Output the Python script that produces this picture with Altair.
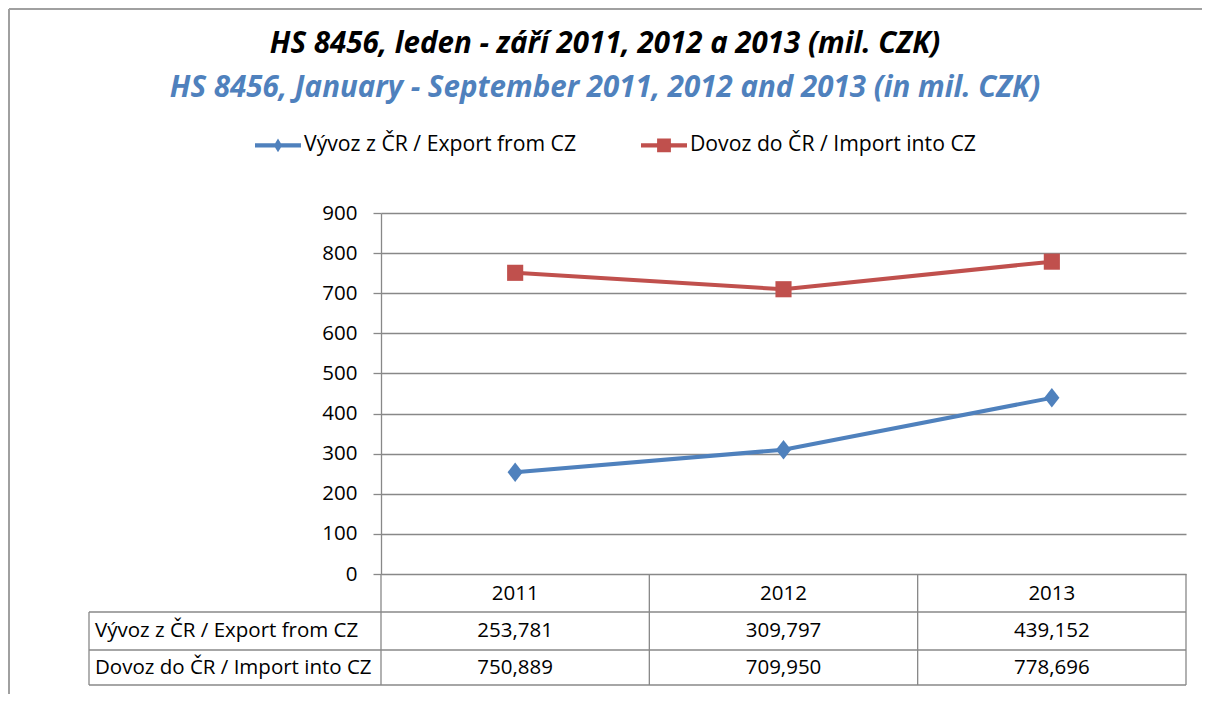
import altair as alt
import pandas as pd

# ---- data ----
years = ["2011", "2012", "2013"]
series_names = ["Vývoz z ČR / Export from CZ", "Dovoz do ČR / Import into CZ"]
export_values = [253.781, 309.797, 439.152]
import_values = [750.889, 709.950, 778.696]
series_colors = ["#4F81BD", "#C0504D"]
y_ticks = [0, 100, 200, 300, 400, 500, 600, 700, 800, 900]
title_cz = "HS 8456, leden - září 2011, 2012 a 2013 (mil. CZK)"
title_en = "HS 8456, January - September 2011, 2012 and 2013 (in mil. CZK)"

FONT = "Open Sans"
GRAY = "#888888"
W, H = 805, 361
FS = 20.5
RIGHT = 16

rows = []
for name, vals in zip(series_names, [export_values, import_values]):
    for yr, v in zip(years, vals):
        rows.append({"year": yr, "series": name, "value": v,
                     "label": f"{v:.3f}".replace(".", ",")})
df = pd.DataFrame(rows)
names_df = pd.DataFrame({"series": series_names})
one = pd.DataFrame({"k": [0]})

xscale = alt.Scale(type="band", domain=years, paddingInner=0, paddingOuter=0)
yscale = alt.Scale(domain=[0, 900], nice=False)

x_axis = alt.Axis(title=None, domain=False, ticks=False, tickSize=0, grid=False,
                  labelPadding=19, labelBaseline="middle", labelAngle=0,
                  labelFont=FONT, labelFontSize=FS, labelColor="#000000")
y_axis = alt.Axis(title=None, values=y_ticks, grid=True, gridColor=GRAY, gridWidth=1.3,
                  domainColor=GRAY, domainWidth=1.3, tickColor=GRAY, tickWidth=1.3,
                  tickSize=8, labelPadding=16, labelFont=FONT, labelFontSize=FS,
                  labelColor="#000000")


def xenc(band):
    return alt.X("year:N", scale=xscale, bandPosition=band, axis=x_axis, title=None)


def yenc():
    return alt.Y("value:Q", scale=yscale, axis=y_axis, title=None)


def only(i):
    return alt.datum.series == series_names[i]


# outer frame (top and left edges)
frame_top = alt.Chart(one).mark_rule(color="#a0a0a0", strokeWidth=2).encode(
    x=alt.value(-372), x2=alt.value(W + RIGHT + 40), y=alt.value(-204))
frame_left = alt.Chart(one).mark_rule(color="#a0a0a0", strokeWidth=2).encode(
    x=alt.value(-372), y=alt.value(-204), y2=alt.value(H + 120))


# data table grid
def hline(ypix):
    return alt.Chart(one).mark_rule(color=GRAY, strokeWidth=1.3).encode(
        x=alt.value(-292), x2=alt.value(W), y=alt.value(ypix))


table_h = [hline(399), hline(437), hline(472)]
table_left = alt.Chart(one).mark_rule(color=GRAY, strokeWidth=1.3).encode(
    x=alt.value(-292), y=alt.value(399), y2=alt.value(472))
table_cols = alt.Chart(df).transform_filter(only(0)).mark_rule(
    color=GRAY, strokeWidth=1.3).encode(x=xenc(0), y=alt.value(H), y2=alt.value(472))
table_right = alt.Chart(df).transform_filter(
    only(0) & (alt.datum.year == years[-1])
).mark_rule(color=GRAY, strokeWidth=1.3).encode(
    x=xenc(1), y=alt.value(H), y2=alt.value(472))


def row_label(i, ypix):
    return alt.Chart(names_df).transform_filter(only(i)).mark_text(
        align="left", baseline="middle", font=FONT, fontSize=FS, color="#000000"
    ).encode(x=alt.value(-286), y=alt.value(ypix), text="series:N")


def row_values(i, ypix):
    return alt.Chart(df).transform_filter(only(i)).mark_text(
        align="center", baseline="middle", font=FONT, fontSize=FS, color="#000000"
    ).encode(x=xenc(0.5), y=alt.value(ypix), text="label:N")


table_text = [row_label(0, 418), row_label(1, 455), row_values(0, 418), row_values(1, 455)]


# lines and markers (one layer per series, fixed colours)
def series_line(i):
    return alt.Chart(df).transform_filter(only(i)).mark_line(
        strokeWidth=4, color=series_colors[i]).encode(x=xenc(0.5), y=yenc())


def markers(i, shape, size):
    return alt.Chart(df).transform_filter(only(i)).mark_point(
        shape=shape, filled=True, opacity=1, size=size, color=series_colors[i]).encode(
        x=xenc(0.5), y=yenc())


lines = [series_line(0), series_line(1)]
pts_export = markers(0, "M0,-1L0.78,0L0,1L-0.78,0Z", 380)
pts_import = markers(1, "square", 260)

# legend (line + marker symbols)
legend_paths = ["M-1,-0.09H1V0.09H-1Z M0,-0.3L0.18,0L0,0.3L-0.18,0Z",
                "M-1,-0.09H1V0.09H-1Z M-0.3,-0.3H0.3V0.3H-0.3Z"]

LEG = dict(title=None, orient="none", legendX=-126, legendY=-91,
           direction="horizontal", labelFont=FONT, labelFontSize=21.2,
           labelColor="#000000", symbolSize=2116, symbolStrokeWidth=0,
           symbolOpacity=1, labelOffset=3, columnPadding=64, labelLimit=400)

legend_layer = alt.Chart(df).mark_point(filled=True, size=0).encode(
    x=xenc(0.5), y=yenc(),
    fill=alt.Fill("series:N", scale=alt.Scale(domain=series_names, range=series_colors),
                  legend=alt.Legend(**LEG)),
    shape=alt.Shape("series:N", scale=alt.Scale(domain=series_names, range=legend_paths),
                    legend=alt.Legend(**LEG)))

chart = alt.layer(
    frame_top, frame_left, *table_h, table_left, table_cols, table_right,
    *table_text, *lines, pts_export, pts_import, legend_layer
).properties(
    width=W, height=H,
    background="white",
    autosize=alt.AutoSizeParams(type="none"),
    padding={"left": 373, "top": 205, "right": RIGHT, "bottom": 120},
    title=alt.Title(
        text=title_cz, subtitle=title_en, anchor="middle", frame="group",
        dx=-178.5, dy=95, offset=0,
        font=FONT, fontSize=29.5, fontWeight="bold", fontStyle="italic", color="#000000",
        subtitleFont=FONT, subtitleFontSize=29.5, subtitleFontWeight="bold",
        subtitleFontStyle="italic", subtitleColor="#4F81BD", subtitlePadding=14),
).configure_view(strokeWidth=0)

chart.save("out.html", embed_options={"renderer": "svg", "actions": False})
